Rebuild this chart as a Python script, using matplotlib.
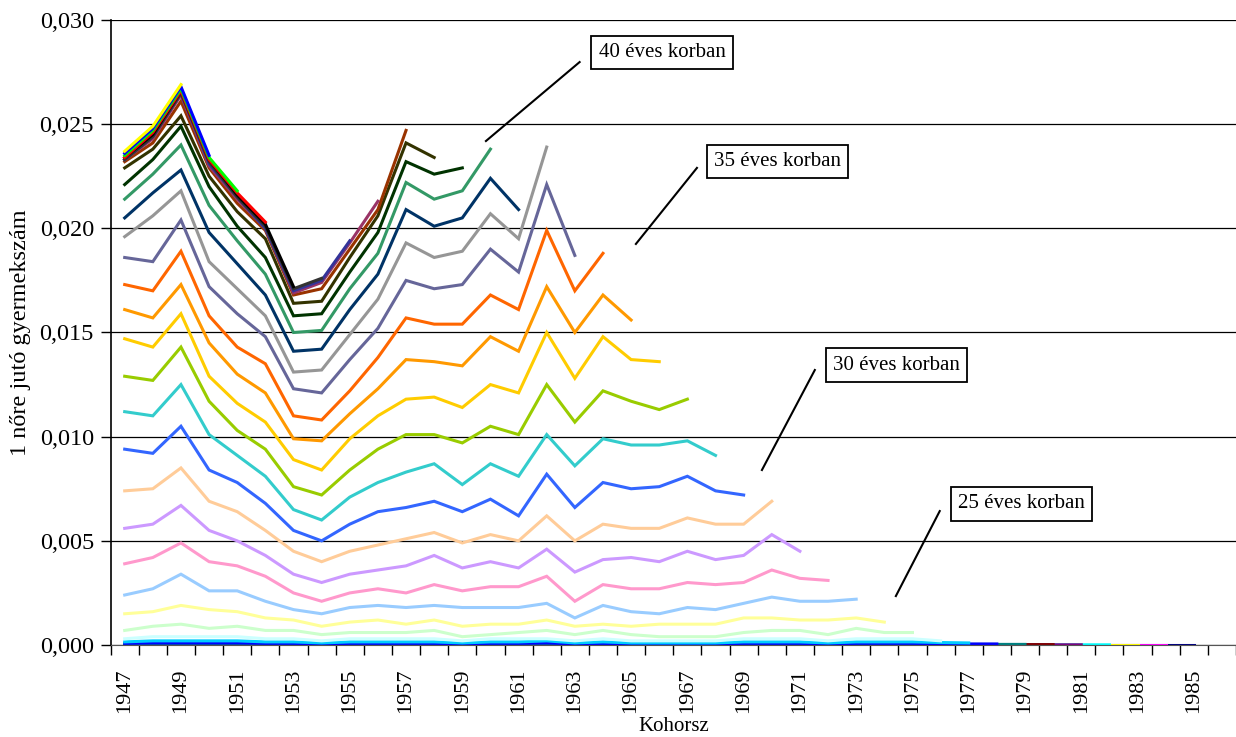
import matplotlib
matplotlib.use("Agg")
import matplotlib.pyplot as plt
from matplotlib.ticker import FuncFormatter

plt.rcParams['font.family'] = ['Liberation Serif', 'DejaVu Serif']

cohorts = list(range(1947, 1987))

# one series per age, named by the last observed cohort
s1949 = [0.0237, 0.0249, 0.0269]
s1950 = [0.0236, 0.0248, 0.0268, 0.0235]
s1951 = [0.0235, 0.0247, 0.0267, 0.0234, 0.0218]
s1952 = [0.0234, 0.0246, 0.0266, 0.0233, 0.0217, 0.0203]
s1953 = [0.0234, 0.0245, 0.0266, 0.0233, 0.0216, 0.0202, 0.0172]
s1954 = [0.0233, 0.0244, 0.0265, 0.0232, 0.0215, 0.0201, 0.0171, 0.0176]
s1955 = [0.0233, 0.0244, 0.0265, 0.0231, 0.0215, 0.0200, 0.0170, 0.0175, 0.0194]
s1956 = [0.0233, 0.0243, 0.0264, 0.0230, 0.0214, 0.0200, 0.0169, 0.0174, 0.0193, 0.0213]
s1957 = [0.0232, 0.0241, 0.0261, 0.0229, 0.0212, 0.0199, 0.0168, 0.0171, 0.0190, 0.0209, 0.0247]
s1958 = [0.0229, 0.0238, 0.0254, 0.0225, 0.0208, 0.0195, 0.0164, 0.0165, 0.0186, 0.0206, 0.0241, 0.0234]
s1959 = [0.0221, 0.0233, 0.0249, 0.0220, 0.0201, 0.0186, 0.0158, 0.0159, 0.0179, 0.0198, 0.0232, 0.0226, 0.0229]
s1960 = [0.0214, 0.0226, 0.0240, 0.0211, 0.0194, 0.0178, 0.0150, 0.0151, 0.0171, 0.0188, 0.0222, 0.0214, 0.0218, 0.0238]
s1961 = [0.0205, 0.0217, 0.0228, 0.0198, 0.0183, 0.0168, 0.0141, 0.0142, 0.0161, 0.0178, 0.0209, 0.0201, 0.0205, 0.0224, 0.0209]
s1962 = [0.0196, 0.0206, 0.0218, 0.0184, 0.0171, 0.0158, 0.0131, 0.0132, 0.0149, 0.0166, 0.0193, 0.0186, 0.0189, 0.0207, 0.0195, 0.0239]
s1963 = [0.0186, 0.0184, 0.0204, 0.0172, 0.0159, 0.0148, 0.0123, 0.0121, 0.0137, 0.0152, 0.0175, 0.0171, 0.0173, 0.0190, 0.0179, 0.0221, 0.0187]
s1964 = [0.0173, 0.0170, 0.0189, 0.0158, 0.0143, 0.0135, 0.0110, 0.0108, 0.0122, 0.0138, 0.0157, 0.0154, 0.0154, 0.0168, 0.0161, 0.0199, 0.0170, 0.0188]
s1965 = [0.0161, 0.0157, 0.0173, 0.0145, 0.0130, 0.0121, 0.0099, 0.0098, 0.0111, 0.0123, 0.0137, 0.0136, 0.0134, 0.0148, 0.0141, 0.0172, 0.0150, 0.0168, 0.0156]
s1966 = [0.0147, 0.0143, 0.0159, 0.0129, 0.0116, 0.0107, 0.0089, 0.0084, 0.0099, 0.0110, 0.0118, 0.0119, 0.0114, 0.0125, 0.0121, 0.0150, 0.0128, 0.0148, 0.0137, 0.0136]
s1967 = [0.0129, 0.0127, 0.0143, 0.0117, 0.0103, 0.0094, 0.0076, 0.0072, 0.0084, 0.0094, 0.0101, 0.0101, 0.0097, 0.0105, 0.0101, 0.0125, 0.0107, 0.0122, 0.0117, 0.0113, 0.0118]
s1968 = [0.0112, 0.0110, 0.0125, 0.0101, 0.0091, 0.0081, 0.0065, 0.0060, 0.0071, 0.0078, 0.0083, 0.0087, 0.0077, 0.0087, 0.0081, 0.0101, 0.0086, 0.0099, 0.0096, 0.0096, 0.0098, 0.0091]
s1969 = [0.0094, 0.0092, 0.0105, 0.0084, 0.0078, 0.0068, 0.0055, 0.0050, 0.0058, 0.0064, 0.0066, 0.0069, 0.0064, 0.0070, 0.0062, 0.0082, 0.0066, 0.0078, 0.0075, 0.0076, 0.0081, 0.0074, 0.0072]
s1970 = [0.0074, 0.0075, 0.0085, 0.0069, 0.0064, 0.0055, 0.0045, 0.0040, 0.0045, 0.0048, 0.0051, 0.0054, 0.0049, 0.0053, 0.0050, 0.0062, 0.0050, 0.0058, 0.0056, 0.0056, 0.0061, 0.0058, 0.0058, 0.0069]
s1971 = [0.0056, 0.0058, 0.0067, 0.0055, 0.0050, 0.0043, 0.0034, 0.0030, 0.0034, 0.0036, 0.0038, 0.0043, 0.0037, 0.0040, 0.0037, 0.0046, 0.0035, 0.0041, 0.0042, 0.0040, 0.0045, 0.0041, 0.0043, 0.0053, 0.0045]
s1972 = [0.0039, 0.0042, 0.0049, 0.0040, 0.0038, 0.0033, 0.0025, 0.0021, 0.0025, 0.0027, 0.0025, 0.0029, 0.0026, 0.0028, 0.0028, 0.0033, 0.0021, 0.0029, 0.0027, 0.0027, 0.0030, 0.0029, 0.0030, 0.0036, 0.0032, 0.0031]
s1973 = [0.0024, 0.0027, 0.0034, 0.0026, 0.0026, 0.0021, 0.0017, 0.0015, 0.0018, 0.0019, 0.0018, 0.0019, 0.0018, 0.0018, 0.0018, 0.0020, 0.0013, 0.0019, 0.0016, 0.0015, 0.0018, 0.0017, 0.0020, 0.0023, 0.0021, 0.0021, 0.0022]
s1974 = [0.0015, 0.0016, 0.0019, 0.0017, 0.0016, 0.0013, 0.0012, 0.0009, 0.0011, 0.0012, 0.0010, 0.0012, 0.0009, 0.0010, 0.0010, 0.0012, 0.0009, 0.0010, 0.0009, 0.0010, 0.0010, 0.0010, 0.0013, 0.0013, 0.0012, 0.0012, 0.0013, 0.0011]
s1975 = [0.0007, 0.0009, 0.0010, 0.0008, 0.0009, 0.0007, 0.0007, 0.0005, 0.0006, 0.0006, 0.0006, 0.0007, 0.0004, 0.0005, 0.0006, 0.0007, 0.0005, 0.0007, 0.0005, 0.0004, 0.0004, 0.0004, 0.0006, 0.0007, 0.0007, 0.0005, 0.0008, 0.0006, 0.0006]
s1976 = [0.0003, 0.0004, 0.0004, 0.0004, 0.0004, 0.0003, 0.0003, 0.0002, 0.0003, 0.0003, 0.0003, 0.0003, 0.0002, 0.0003, 0.0003, 0.0003, 0.0002, 0.0003, 0.0002, 0.0002, 0.0002, 0.0002, 0.0003, 0.0003, 0.0003, 0.0002, 0.0003, 0.0003, 0.0003, 0.0002]
s1977 = [0.00015, 0.0002, 0.0002, 0.0002, 0.0002, 0.00015, 0.00015, 0.0001, 0.00015, 0.00015, 0.00015, 0.00015, 0.0001, 0.00015, 0.00015, 0.0002, 0.0001, 0.00015, 0.0001, 0.0001, 0.0001, 0.0001, 0.00015, 0.00015, 0.00015, 0.0001, 0.00015, 0.00015, 0.00015, 0.00012, 0.0001]
s1978 = [0.00008, 0.0001, 0.0001, 0.0001, 0.0001, 0.00008, 0.00008, 0.00005, 0.00008, 0.00008, 0.00008, 0.00008, 0.00005, 0.00008, 0.00008, 0.0001, 0.00005, 0.00008, 0.00005, 0.00005, 0.00005, 0.00005, 0.00008, 0.00008, 0.00008, 0.00005, 0.00008, 0.00008, 0.00008, 0.00006, 0.00005, 0.00005]
s1979 = [0.00005, 0.00006, 0.00006, 0.00006, 0.00006, 0.00005, 0.00005, 0.00003, 0.00005, 0.00005, 0.00005, 0.00005, 0.00003, 0.00005, 0.00005, 0.00006, 0.00003, 0.00005, 0.00003, 0.00003, 0.00003, 0.00003, 0.00005, 0.00005, 0.00005, 0.00003, 0.00005, 0.00005, 0.00005, 0.00004, 0.00003, 0.00003, 0.00003]
s1980 = [0.00003, 0.00004, 0.00004, 0.00004, 0.00004, 0.00003, 0.00003, 0.00002, 0.00003, 0.00003, 0.00003, 0.00003, 0.00002, 0.00003, 0.00003, 0.00004, 0.00002, 0.00003, 0.00002, 0.00002, 0.00002, 0.00002, 0.00003, 0.00003, 0.00003, 0.00002, 0.00003, 0.00003, 0.00003, 0.00002, 0.00002, 0.00002, 0.00002, 0.00002]
s1981 = [0.00002, 0.00003, 0.00003, 0.00003, 0.00003, 0.00002, 0.00002, 0.00001, 0.00002, 0.00002, 0.00002, 0.00002, 0.00001, 0.00002, 0.00002, 0.00003, 0.00001, 0.00002, 0.00001, 0.00001, 0.00001, 0.00001, 0.00002, 0.00002, 0.00002, 0.00001, 0.00002, 0.00002, 0.00002, 0.00001, 0.00001, 0.00001, 0.00001, 0.00001, 0.00001]
s1982 = [0.00002, 0.00002, 0.00002, 0.00002, 0.00002, 0.00001, 0.00001, 0.00001, 0.00001, 0.00001, 0.00001, 0.00001, 0.00001, 0.00001, 0.00001, 0.00002, 0.00001, 0.00001, 0.00001, 0.00001, 0.00001, 0.00001, 0.00001, 0.00001, 0.00001, 0.00001, 0.00001, 0.00001, 0.00001, 0.00001, 0.00001, 0.00001, 0.00001, 0.00001, 0.00001, 0.00001]
s1983 = [0.00001, 0.00001, 0.00001, 0.00001, 0.00001, 0.00001, 0.00001, 0.00001, 0.00001, 0.00001, 0.00001, 0.00001, 0.00001, 0.00001, 0.00001, 0.00001, 0.00001, 0.00001, 0.00001, 0.00001, 0.00001, 0.00001, 0.00001, 0.00001, 0.00001, 0.00001, 0.00001, 0.00001, 0.00001, 0.00001, 0.00001, 0.00001, 0.00001, 0.00001, 0.00001, 0.00001, 0.00001]
s1984 = [0.000005, 0.000005, 0.000005, 0.000005, 0.000005, 0.000005, 0.000005, 0.000005, 0.000005, 0.000005, 0.000005, 0.000005, 0.000005, 0.000005, 0.000005, 0.000005, 0.000005, 0.000005, 0.000005, 0.000005, 0.000005, 0.000005, 0.000005, 0.000005, 0.000005, 0.000005, 0.000005, 0.000005, 0.000005, 0.000005, 0.000005, 0.000005, 0.000005, 0.000005, 0.000005, 0.000005, 0.000005, 0.000005]
s1985 = [0.000003, 0.000003, 0.000003, 0.000003, 0.000003, 0.000003, 0.000003, 0.000003, 0.000003, 0.000003, 0.000003, 0.000003, 0.000003, 0.000003, 0.000003, 0.000003, 0.000003, 0.000003, 0.000003, 0.000003, 0.000003, 0.000003, 0.000003, 0.000003, 0.000003, 0.000003, 0.000003, 0.000003, 0.000003, 0.000003, 0.000003, 0.000003, 0.000003, 0.000003, 0.000003, 0.000003, 0.000003, 0.000003, 0.000003]

# drawn first -> last (younger ages underneath)
series = [s1985, s1984, s1983, s1982, s1981, s1980, s1979, s1978, s1977, s1976,
          s1975, s1974, s1973, s1972, s1971, s1970, s1969, s1968, s1967, s1966,
          s1965, s1964, s1963, s1962, s1961, s1960, s1959, s1958, s1957, s1956,
          s1955, s1954, s1953, s1952, s1951, s1950, s1949]
colors = ['#000080', '#FF00FF', '#FFFF00', '#00FFFF', '#800080', '#800000', '#008080', '#0000FF',
          '#00CCFF', '#CCFFFF', '#CCFFCC', '#FFFF99', '#99CCFF', '#FF99CC', '#CC99FF', '#FFCC99',
          '#3366FF', '#33CCCC', '#99CC00', '#FFCC00', '#FF9900', '#FF6600', '#666699', '#969696',
          '#003366', '#339966', '#003300', '#333300', '#993300', '#993366', '#333399', '#333333',
          '#000000', '#FF0000', '#00FF00', '#0000FF', '#FFFF00']

notes = ['40 éves korban', '35 éves korban', '30 éves korban', '25 éves korban']

fig = plt.figure(figsize=(12.36, 7.37), dpi=100)
ax = fig.add_axes([0.0895, 0.1248, 0.9105, 0.8481])

for vals, col in zip(series, colors):
    ax.plot(range(len(vals)), vals, color=col, lw=2.2, solid_joinstyle='miter')

ax.set_xlim(-0.5, len(cohorts) - 0.5)
ax.set_ylim(0, 0.030)
ax.set_yticks([0, 0.005, 0.010, 0.015, 0.020, 0.025, 0.030])
ax.yaxis.set_major_formatter(FuncFormatter(lambda v, p: ('%.3f' % v).replace('.', ',')))
ax.grid(axis='y', color='black', lw=0.9)
ax.set_axisbelow(True)
ax.tick_params(axis='y', length=7, width=1, pad=5, labelsize=17.5)

# category boundaries get tick marks, every second cohort gets a label
ax.set_xticks([i - 0.5 for i in range(len(cohorts) + 1)])
ax.set_xticklabels([])
ax.tick_params(axis='x', which='major', length=7, width=1)
ax.set_xticks(range(0, len(cohorts), 2), minor=True)
ax.set_xticklabels([str(c) for c in cohorts[::2]], minor=True, rotation=90, fontsize=16)
ax.tick_params(axis='x', which='minor', length=0, pad=17)

for s in ['top', 'right']:
    ax.spines[s].set_visible(False)
ax.spines['left'].set_linewidth(1.2)
ax.spines['bottom'].set_color('#555555')

ax.set_xlabel('Kohorsz', fontsize=15, labelpad=3)
ax.set_ylabel('1 nőre jutó gyermekszám', fontsize=17.5, labelpad=6)

box = dict(boxstyle='square,pad=0.35', fc='white', ec='black', lw=1.3)
ax.text(19.1, 0.02844, notes[0], fontsize=15, ha='center', va='center', bbox=box)
ax.text(23.21, 0.02321, notes[1], fontsize=15, ha='center', va='center', bbox=box)
ax.text(27.43, 0.01344, notes[2], fontsize=15, ha='center', va='center', bbox=box)
ax.text(31.87, 0.00677, notes[3], fontsize=15, ha='center', va='center', bbox=box)
ax.plot([16.17, 12.84], [0.02798, 0.02419], color='black', lw=1.5)
ax.plot([20.34, 18.17], [0.0229, 0.01925], color='black', lw=1.5)
ax.plot([24.53, 22.65], [0.0132, 0.0084], color='black', lw=1.5)
ax.plot([28.97, 27.41], [0.00643, 0.00235], color='black', lw=1.5)

plt.savefig('out.png', dpi=100)
